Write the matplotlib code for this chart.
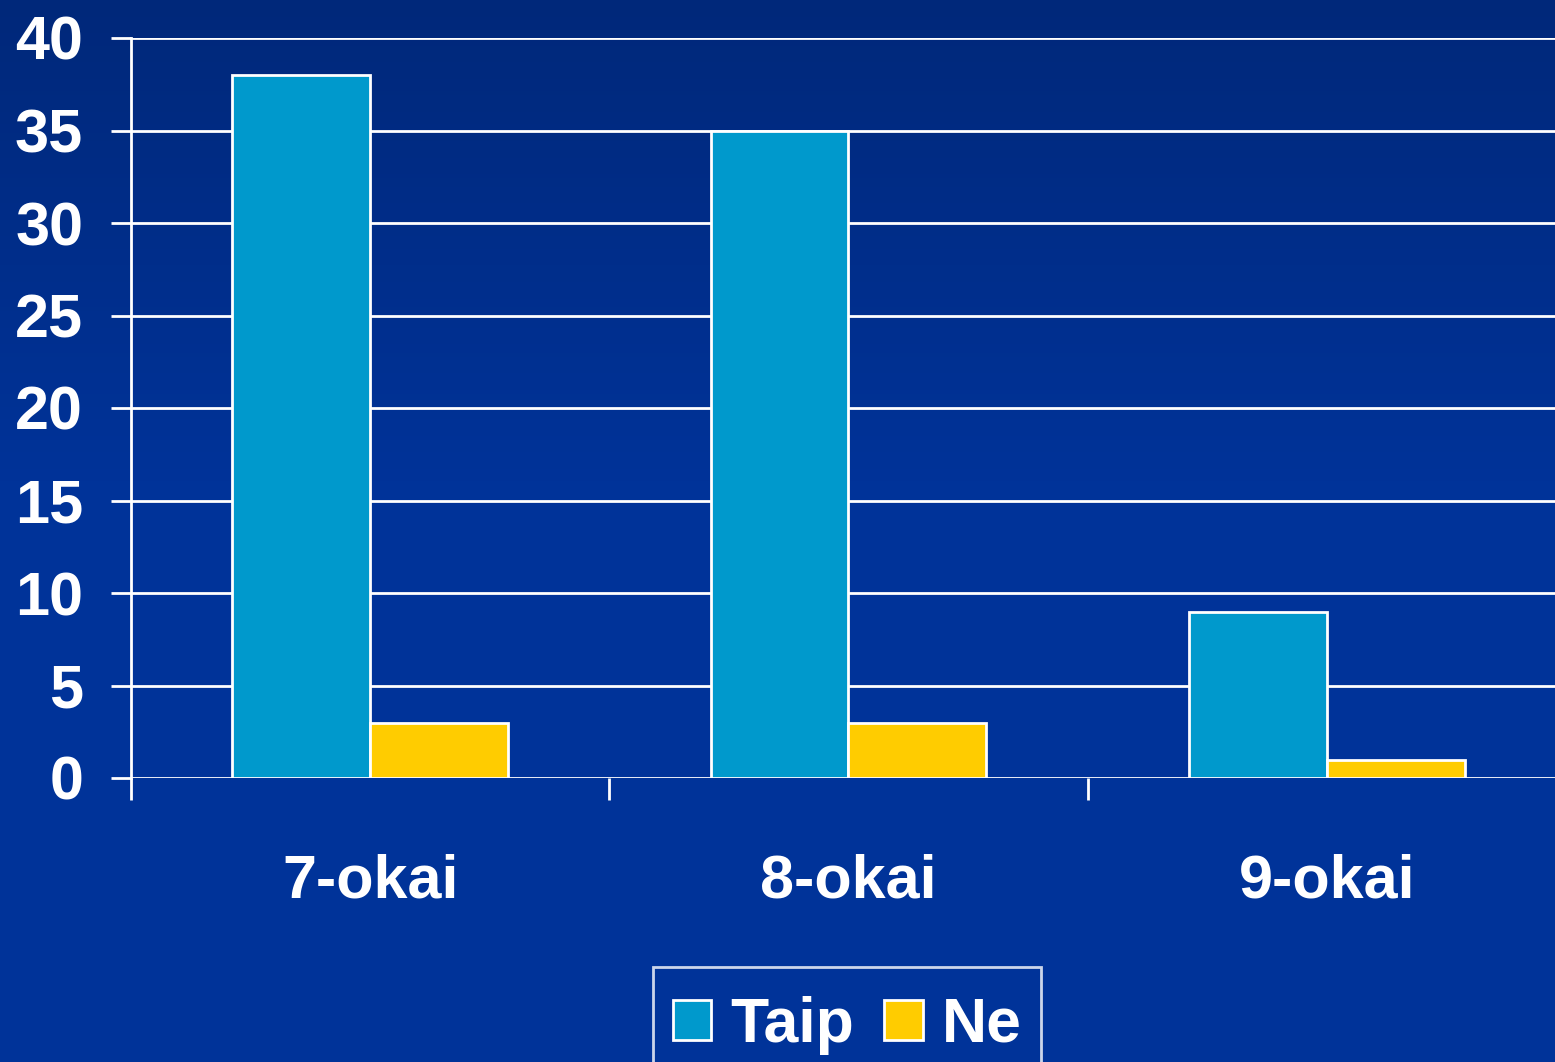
import numpy as np
import matplotlib.pyplot as plt
from matplotlib.patches import Patch

categories = ["7-okai", "8-okai", "9-okai"]
taip = [38, 35, 9]
ne = [3, 3, 1]
series_names = ["Taip", "Ne"]
yticks = [0, 5, 10, 15, 20, 25, 30, 35, 40]

TAIP_COLOR = "#0099CC"
NE_COLOR = "#FFCC00"
W, H = 1555, 1062

fig = plt.figure(figsize=(W / 100, H / 100), dpi=100)

# background gradient
bg = fig.add_axes([0, 0, 1, 1], zorder=-10)
grad = np.linspace(0, 1, 256).reshape(-1, 1)
top = np.array([0x00, 0x28, 0x7A]) / 255
bot = np.array([0x00, 0x33, 0x99]) / 255
img = top + (bot - top) * np.clip(grad * 2.2, 0, 1)[..., None]
bg.imshow(img.reshape(256, 1, 3), aspect="auto", extent=[0, 1, 0, 1])
bg.set_axis_off()

ax = fig.add_axes([131 / W, 1 - 778 / H, (1566 - 131) / W, (778 - 38) / H])
ax.patch.set_alpha(0)

x = np.arange(len(categories))
w = 0.288
ax.bar(x - w / 2, taip, w, color=TAIP_COLOR, edgecolor="white", linewidth=2, zorder=3)
ax.bar(x + w / 2, ne, w, color=NE_COLOR, edgecolor="white", linewidth=2, zorder=3)

ax.set_xlim(-0.5, 2.5)
ax.set_ylim(0, 40)
ax.set_yticks(yticks)
ax.yaxis.grid(True, color="white", linewidth=2, zorder=1)
ax.set_axisbelow(True)

for s in ["top", "right", "bottom"]:
    ax.spines[s].set_visible(False)
ax.spines["left"].set_color("white")
ax.spines["left"].set_linewidth(2)

ax.tick_params(axis="y", colors="white", length=14.4, width=2, pad=20)
for lbl in ax.get_yticklabels():
    lbl.set_fontfamily(["Liberation Sans Narrow", "Liberation Sans"])
    lbl.set_fontweight("bold")
    lbl.set_fontsize(44)

# category boundaries as major ticks, names on minor ticks
ax.set_xticks([-0.5, 0.5, 1.5, 2.5])
ax.set_xticklabels([])
ax.tick_params(axis="x", which="major", colors="white", length=16, width=2)
ax.set_xticks(x, minor=True)
ax.set_xticklabels(categories, minor=True)
ax.tick_params(axis="x", which="minor", length=0, pad=54, labelcolor="white")
for lbl in ax.get_xticklabels(minor=True):
    lbl.set_fontfamily("Liberation Sans")
    lbl.set_fontweight("bold")
    lbl.set_fontsize(44)

handles = [Patch(facecolor=TAIP_COLOR, edgecolor="white", linewidth=2),
           Patch(facecolor=NE_COLOR, edgecolor="white", linewidth=2)]
# tiny blank title gives the extra room above the entries
leg = fig.legend(handles, series_names, loc="upper center",
                 bbox_to_anchor=(847 / W, 1 - 967 / H), ncol=2,
                 frameon=True, fancybox=False, title=" ", title_fontsize=6,
                 prop={"family": "Liberation Sans", "weight": "bold", "size": 45},
                 handlelength=0.62, handleheight=0.62, handletextpad=0.3,
                 columnspacing=0.48, borderpad=0.32, labelspacing=0.0,
                 borderaxespad=0, labelcolor="white")
leg.get_frame().set_facecolor("none")
leg.get_frame().set_edgecolor("white")
leg.get_frame().set_linewidth(2)

fig.savefig("out.png", dpi=100)
